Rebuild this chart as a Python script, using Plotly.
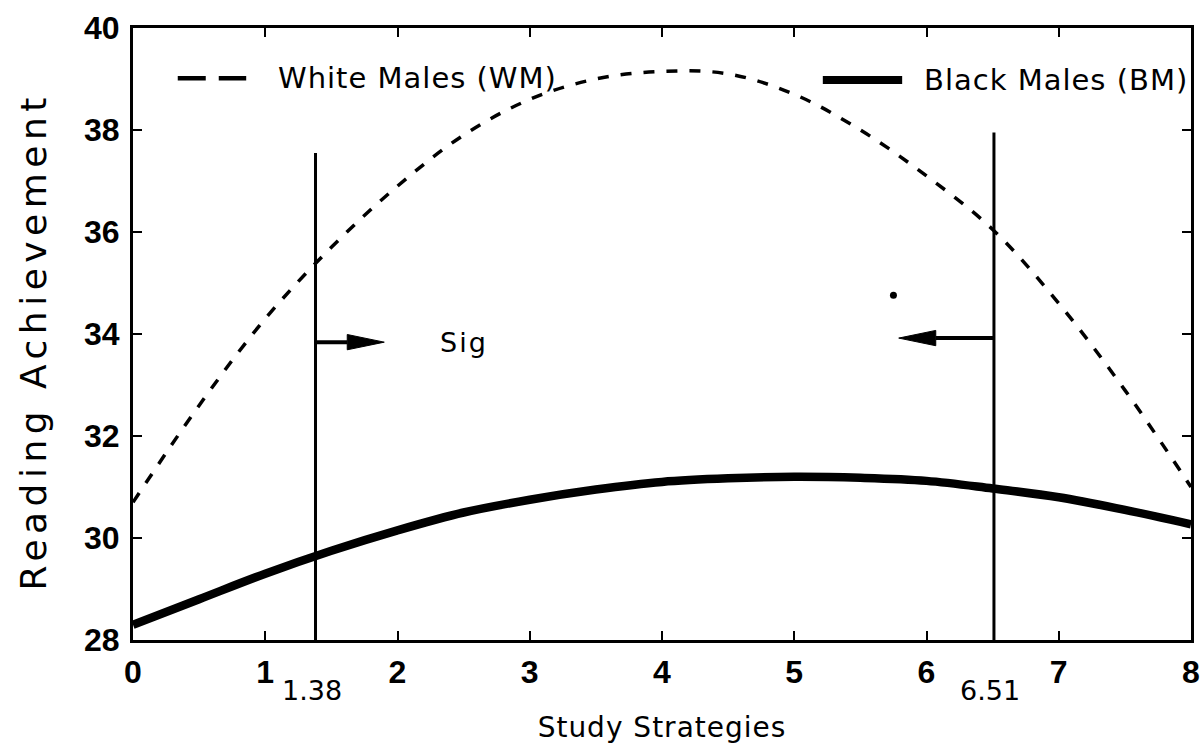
import plotly.graph_objects as go

# Study strategies score (x) and predicted reading achievement (y)
strategies = [0, 0.5, 1, 1.5, 2, 2.5, 3, 3.5, 4, 4.5, 5, 5.5, 6, 6.5, 7, 7.5, 8]
white_males = [30.7, 32.6, 34.3, 35.7, 36.9, 37.9, 38.6, 39.0, 39.15, 39.1, 38.7,
               38.0, 37.1, 36.05, 34.6, 32.9, 31.0]
black_males = [28.3, 28.8, 29.3, 29.75, 30.15, 30.5, 30.75, 30.95, 31.1, 31.17,
               31.2, 31.18, 31.12, 30.97, 30.8, 30.55, 30.27]

# Region of significance boundaries
sig_bounds = [1.38, 6.51]
sig_line_tops = [37.55, 37.95]
arrow_y = [33.84, 33.92]
arrow_tips = [1.90, 5.79]
sig_label = "Sig"
sig_label_pos = (2.5, 33.84)
stray_dot = ([5.75], [34.76])

x_ticks = [0, 1, 2, 3, 4, 5, 6, 7, 8]
y_ticks = [28, 30, 32, 34, 36, 38, 40]

X_RANGE = [0, 8]
Y_RANGE = [28, 40]

TEXT_FONT = "DejaVu Sans"
NUM_FONT = "Liberation Sans Narrow, Liberation Sans, Arial"

# arrowhead geometry in data units (length along x, half-height along y)
HEAD_LEN = 0.28
HEAD_HALF = 0.15


def spaced(text, px):
    return f'<span style="letter-spacing:{px}px">{text}</span>'


fig = go.Figure()

fig.add_trace(go.Scatter(
    x=strategies, y=white_males, mode="lines", name="White Males (WM)",
    line=dict(color="black", width=3.5, dash="11px,12px", shape="spline"),
    showlegend=False,
))
fig.add_trace(go.Scatter(
    x=strategies, y=black_males, mode="lines", name="Black Males (BM)",
    line=dict(color="black", width=8.5, shape="spline"),
    showlegend=False,
))

# Vertical boundary lines
for xb, top in zip(sig_bounds, sig_line_tops):
    fig.add_trace(go.Scatter(
        x=[xb, xb], y=[Y_RANGE[0], top], mode="lines",
        line=dict(color="black", width=3), showlegend=False, hoverinfo="skip",
    ))

fig.add_trace(go.Scatter(
    x=stray_dot[0], y=stray_dot[1], mode="markers",
    marker=dict(color="black", size=7), showlegend=False, hoverinfo="skip",
))

# Arrows pointing into the region of significance: shaft plus filled head
for xb, tip, ya in zip(sig_bounds, arrow_tips, arrow_y):
    direction = 1 if tip > xb else -1
    base = tip - direction * HEAD_LEN
    fig.add_trace(go.Scatter(
        x=[xb, base], y=[ya, ya], mode="lines",
        line=dict(color="black", width=4), showlegend=False, hoverinfo="skip",
    ))
    fig.add_trace(go.Scatter(
        x=[base, tip, base, base], y=[ya + HEAD_HALF, ya, ya - HEAD_HALF, ya + HEAD_HALF],
        mode="lines", fill="toself", fillcolor="black",
        line=dict(color="black", width=1), showlegend=False, hoverinfo="skip",
    ))

fig.add_annotation(
    x=sig_label_pos[0], y=sig_label_pos[1], xref="x", yref="y", text=spaced(sig_label, 2),
    showarrow=False, font=dict(family=TEXT_FONT, size=27, color="black"),
)

# Boundary value labels under the axis
for xb in sig_bounds:
    fig.add_annotation(
        x=xb, y=0, xref="x", yref="paper", yanchor="middle", yshift=-50, xshift=-4,
        text=f"{xb:.2f}", showarrow=False,
        font=dict(family=TEXT_FONT, size=27, color="black"),
    )

# Legend keys drawn inside the plot area
fig.add_shape(type="line", xref="paper", yref="paper", x0=0.0423, x1=0.107,
              y0=0.918, y1=0.918, line=dict(color="black", width=4.5, dash="28px,13px"))
fig.add_annotation(x=0.135, y=0.918, xref="paper", yref="paper", xanchor="left",
                   yanchor="middle", text=spaced("White Males (WM)", 1), showarrow=False,
                   font=dict(family=TEXT_FONT, size=29, color="black"))
fig.add_shape(type="line", xref="paper", yref="paper", x0=0.652, x1=0.727,
              y0=0.915, y1=0.915, line=dict(color="black", width=8))
fig.add_annotation(x=0.7455, y=0.915, xref="paper", yref="paper", xanchor="left",
                   yanchor="middle", text=spaced("Black Males (BM)", 1), showarrow=False,
                   font=dict(family=TEXT_FONT, size=29, color="black"))

# Y-axis title placed beside the tick labels
fig.add_annotation(x=-0.094, y=0.487, xref="paper", yref="paper", xanchor="center",
                   yanchor="middle", textangle=-90, showarrow=False,
                   text=spaced("Reading Achievement", 5.5),
                   font=dict(family=TEXT_FONT, size=36, color="black"))

axis_common = dict(
    showline=True, linecolor="black", linewidth=3, mirror="ticks",
    ticks="inside", ticklen=9, tickwidth=2, tickcolor="black",
    showgrid=False, zeroline=False, ticklabeloverflow="allow", automargin=False,
    tickfont=dict(family=NUM_FONT, size=32, color="black", weight="bold"),
)

fig.update_xaxes(
    range=X_RANGE, tickvals=x_ticks, ticktext=[str(v) for v in x_ticks],
    ticklabelstandoff=2,
    title=dict(text=spaced("Study Strategies", 1),
               font=dict(family=TEXT_FONT, size=28, color="black"), standoff=28),
    **axis_common,
)
fig.update_yaxes(
    range=Y_RANGE, tickvals=y_ticks, ticktext=[str(v) for v in y_ticks],
    ticklabelstandoff=4,
    **axis_common,
)

fig.update_layout(
    width=1202, height=752,
    margin=dict(l=133, r=11, t=28, b=112),
    paper_bgcolor="white", plot_bgcolor="white",
)

fig.write_html("out.html")
